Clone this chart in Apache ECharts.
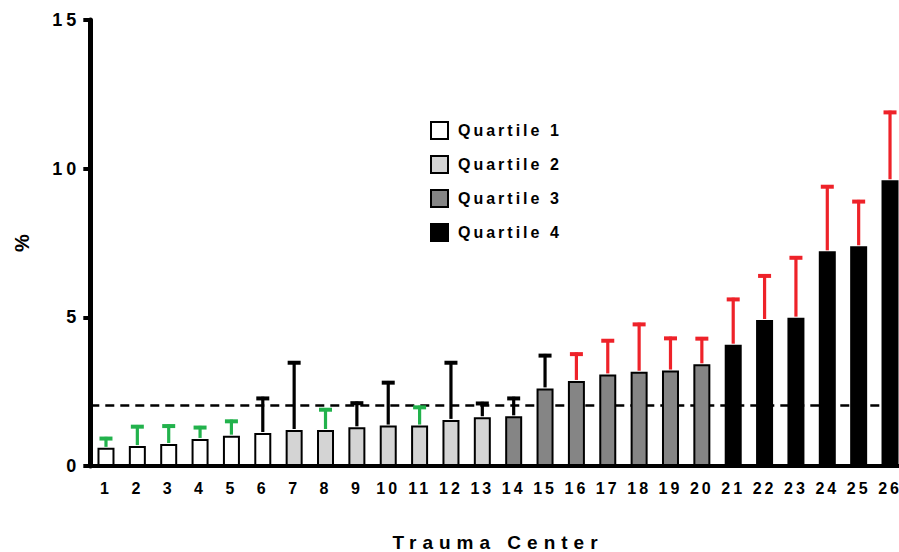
<!DOCTYPE html>
<html>
<head>
<meta charset="utf-8">
<script src="https://cdn.jsdelivr.net/npm/echarts@6/dist/echarts.min.js"></script>
<style>
    * { margin: 0; padding: 0; }
    #main { width: 899px; height: 552px; background: #fff; }
    /* wide letter spacing of the original figure */
    #main text[style*="16px"] { letter-spacing: 3px; }
    #main text[style*="18px"] { letter-spacing: 4px; }
    #main text[style*="19px"] { letter-spacing: 6px; }
</style>
</head>
<body>
<div id="main"></div>
<script>
    // trauma centers 1..26
    var centers = ['1','2','3','4','5','6','7','8','9','10','11','12','13',
        '14','15','16','17','18','19','20','21','22','23','24','25','26'];
    // mean %
    var means = [0.61, 0.67, 0.74, 0.91, 1.02, 1.11, 1.21, 1.21, 1.30, 1.36, 1.36, 1.55, 1.64,
        1.67, 2.61, 2.86, 3.08, 3.17, 3.21, 3.42, 4.08, 4.91, 4.99, 7.22, 7.39, 9.61];
    // top of the error bar
    var upper = [0.98, 1.38, 1.40, 1.35, 1.56, 2.33, 3.53, 1.95, 2.17, 2.86, 2.03, 3.53, 2.16,
        2.33, 3.77, 3.82, 4.27, 4.82, 4.35, 4.34, 5.66, 6.45, 7.06, 9.45, 8.95, 11.95];
    // quartile of each center (1..4)
    var quartile = [1,1,1,1,1,1,2,2,2,2,2,2,2,3,3,3,3,3,3,3,4,4,4,4,4,4];
    // error bar group: low / mid / high
    var errGroup = ['low','low','low','low','low','mid','mid','low','mid','mid','low','mid','mid',
        'mid','mid','high','high','high','high','high','high','high','high','high','high','high'];
    var quartileNames = ['Quartile 1', 'Quartile 2', 'Quartile 3', 'Quartile 4'];
    var benchmark = 2.03;

    var quartileColors = ['#ffffff', '#d4d4d4', '#858585', '#000000'];
    var errColors = { low: '#22b24c', mid: '#000000', high: '#ee2229' };

    var myChart = echarts.init(document.getElementById('main'), null, { renderer: 'svg' });

    var series = [];
    quartileNames.forEach(function (name, q) {
        series.push({
            name: name,
            type: 'bar',
            stack: 'q',
            barWidth: 17,
            z: 3,
            itemStyle: { color: quartileColors[q], borderColor: '#000', borderWidth: 2 },
            data: means.map(function (v, i) { return quartile[i] === q + 1 ? v : '-'; })
        });
    });

    // dashed reference line, drawn below the bars
    series.push({
        name: 'ref',
        type: 'line',
        data: [],
        z: 1,
        markLine: {
            z: 1,
            silent: true,
            symbol: 'none',
            animation: false,
            label: { show: false },
            lineStyle: { color: '#000', type: [9, 6], width: 2.5 },
            data: [{ yAxis: benchmark }]
        }
    });

    // upper error bars
    series.push({
        name: 'err',
        type: 'custom',
        z: 4,
        data: means.map(function (v, i) { return [i, v, upper[i]]; }),
        renderItem: function (params, api) {
            var i = api.value(0);
            var p0 = api.coord([i, api.value(1)]);
            var p1 = api.coord([i, api.value(2)]);
            var c = errColors[errGroup[params.dataIndex]];
            var half = 6.5;
            return {
                type: 'group',
                children: [
                    { type: 'line', shape: { x1: p0[0], y1: p0[1] - 1, x2: p1[0], y2: p1[1] },
                        style: { stroke: c, lineWidth: 3.2 } },
                    { type: 'line', shape: { x1: p1[0] - half, y1: p1[1] + 1.7, x2: p1[0] + half, y2: p1[1] + 1.7 },
                        style: { stroke: c, lineWidth: 4 } }
                ]
            };
        }
    });

    var option = {
        animation: false,
        textStyle: { fontFamily: 'Liberation Sans', fontWeight: 'bold', color: '#000' },
        grid: { left: 90.3, top: 20, width: 815.4, height: 446, outerBoundsMode: 'none' },
        legend: {
            data: quartileNames,
            orient: 'vertical',
            left: 430,
            top: 121,
            padding: 0,
            icon: 'rect',
            itemWidth: 17,
            itemHeight: 17,
            itemGap: 15,
            textStyle: { fontSize: 16, fontWeight: 'bold', color: '#000', padding: [0, 0, 0, 5] }
        },
        xAxis: {
            type: 'category',
            data: centers,
            name: 'Trauma Center',
            nameLocation: 'middle',
            nameGap: 67,
            nameTextStyle: { fontSize: 19, fontWeight: 'bold', color: '#000' },
            axisLine: { lineStyle: { color: '#000', width: 4 } },
            axisTick: { alignWithLabel: true, length: 6, lineStyle: { color: '#000', width: 4 } },
            axisLabel: { fontSize: 16, fontWeight: 'bold', color: '#000', margin: 14, interval: 0 }
        },
        yAxis: {
            type: 'value',
            min: 0,
            max: 15,
            interval: 5,
            name: '%',
            nameLocation: 'middle',
            nameRotate: 90,
            nameGap: 58,
            nameTextStyle: { fontSize: 20, fontWeight: 'bold', color: '#000' },
            axisLine: { show: true, lineStyle: { color: '#000', width: 5 } },
            axisTick: { show: true, length: 7, lineStyle: { color: '#000', width: 4 } },
            splitLine: { show: false },
            axisLabel: { fontSize: 18, fontWeight: 'bold', color: '#000', margin: 10 }
        },
        series: series
    };

    myChart.setOption(option);
</script>
</body>
</html>
